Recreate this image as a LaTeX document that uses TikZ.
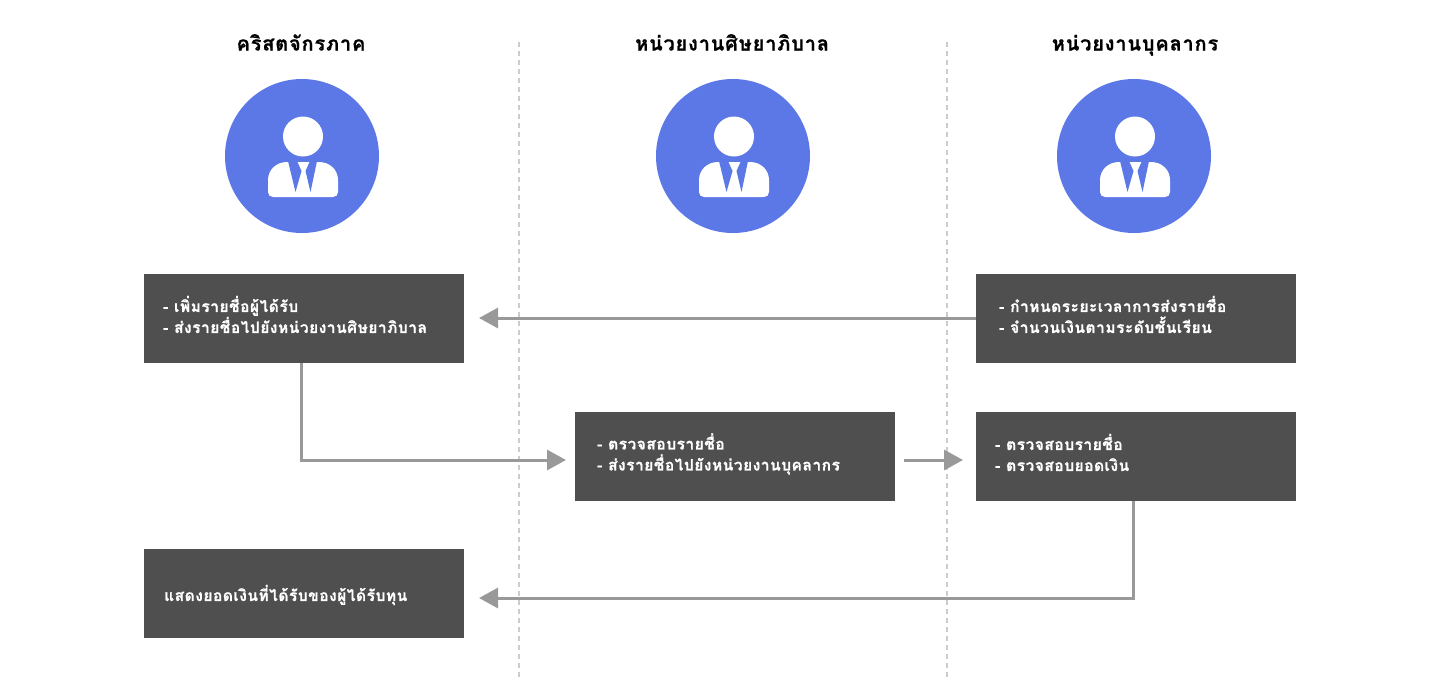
\documentclass[tikz,border=0pt]{standalone}
\usepackage{fontspec}
\usetikzlibrary{arrows.meta}
\newfontfamily\thaifont[Script=Thai,LetterSpace=4,FakeBold=0.6]{Loma}
\newfontfamily\taskfont[Script=Thai,LetterSpace=3,FakeBold=0.6]{Loma}
\definecolor{boxgray}{HTML}{4F4F4F}
\definecolor{linegray}{HTML}{999999}
\definecolor{dashgray}{HTML}{CCCCCC}
\definecolor{roleblue}{HTML}{5C77E6}
\tikzset{
  role/.style={circle,fill=roleblue,inner sep=0pt,minimum size=154pt},
  head/.style={font=\thaifont\bfseries\fontsize{20}{24}\selectfont,inner sep=0pt,anchor=base},
  task/.style={fill=boxgray,text=white,inner sep=0pt,minimum width=320pt,minimum height=89pt},
  tasktext/.style={text=white,font=\taskfont\bfseries\fontsize{15.6}{21}\selectfont,align=left,inner sep=0pt,anchor=west},
  flow/.style={draw=linegray,line width=3pt,-{Triangle[length=19pt,width=20pt]}},
  sep/.style={draw=dashgray,line width=2pt,dash pattern=on 5pt off 4pt},
  pics/person/.style={code={
    \fill[white] (0,-19.5) circle (20);
    \fill[white] (-30,41) .. controls (-33,41) and (-35,39) .. (-35,36) -- (-35,24)
      .. controls (-35,14) and (-27,6) .. (-16,6) -- (16,6)
      .. controls (27,6) and (35,14) .. (35,24) -- (35,36)
      .. controls (35,39) and (33,41) .. (30,41) -- cycle;
    \fill[roleblue] (-15,5) -- (-6,5) -- (-1.5,15) -- (-7.5,36) -- cycle;
    \fill[roleblue] (14,5) -- (7,5) -- (2.5,15) -- (7.5,36) -- cycle;
  }}
}
\begin{document}
\begin{tikzpicture}[x=1pt,y=-1pt]
\useasboundingbox (0,0) rectangle (1440,697);
\draw[sep] (519,42) coordinate (s1a) -- (519,678) coordinate (s1b);
\draw[sep] (947,42) coordinate (s2a) -- (947,678) coordinate (s2b);
\node[head] (h1) at (301,50.5) {คริสตจักรภาค};
\node[head] (h2) at (732,50.5) {หน่วยงานศิษยาภิบาล};
\node[head] (h3) at (1135,50.5) {หน่วยงานบุคลากร};
\node[role] (r1) at (302,156) {};
\node[role] (r2) at (733,156) {};
\node[role] (r3) at (1134,156) {};
\foreach \c in {r1,r2,r3}{
  \pic at ([xshift=1pt]\c.center) {person};
}
\node[task] (t1) at (304,318.5) {};
\node[task] (t2) at (1136,318.5) {};
\node[task] (t3) at (735,456.5) {};
\node[task] (t4) at (1136,456.5) {};
\node[task] (t5) at (304,593.5) {};
\node[tasktext] (l1) at (163,314.5) {- เพิ่มรายชื่อผู้ได้รับ\\- ส่งรายชื่อไปยังหน่วยงานศิษยาภิบาล};
\node[tasktext] (l2) at (999,314.5) {- กำหนดระยะเวลาการส่งรายชื่อ\\- จำนวนเงินตามระดับชั้นเรียน};
\node[tasktext] (l3) at (597,454) {- ตรวจสอบรายชื่อ\\- ส่งรายชื่อไปยังหน่วยงานบุคลากร};
\node[tasktext] (l4) at (995,452.5) {- ตรวจสอบรายชื่อ\\- ตรวจสอบยอดเงิน};
\node[tasktext] (l5) at (164,595) {แสดงยอดเงินที่ได้รับของผู้ได้รับทุน};
\coordinate (a1) at (479,318);
\coordinate (a2) at (566,460);
\coordinate (a3) at (904,460);
\coordinate (a4) at (963,460);
\coordinate (a5) at (479,598);
\draw[flow] (t2.west |- a1) -- (a1);
\draw[flow] ([xshift=-2.5pt]t1.south) |- (a2);
\draw[flow] (a3) -- (a4);
\draw[flow] ([xshift=-3pt]t4.south) |- (a5);
\end{tikzpicture}
\end{document}
